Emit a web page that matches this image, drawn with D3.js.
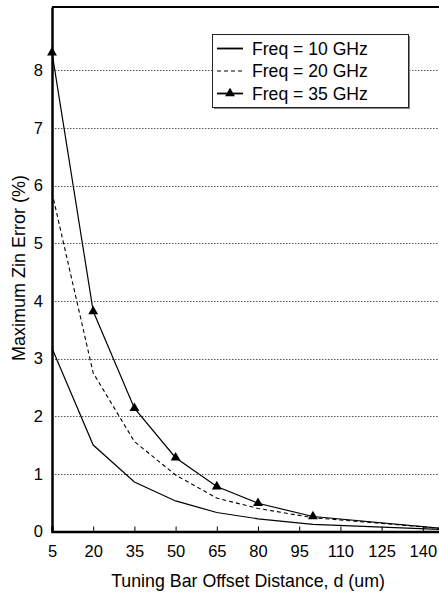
<!DOCTYPE html>
<html><head><meta charset="utf-8">
<script src="https://cdn.jsdelivr.net/npm/d3@7"></script>
<style>html,body{margin:0;padding:0;background:#fff;overflow:hidden}</style>
</head><body>
<svg id="c" width="439" height="595"></svg>
<script>
const xValues = [5, 20, 35, 50, 65, 80, 100, 150];
const f10 = [3.18, 1.50, 0.86, 0.53, 0.33, 0.22, 0.125, 0.03];
const f20 = [5.88, 2.75, 1.56, 0.98, 0.58, 0.40, 0.24, 0.04];
const f35 = [8.31, 3.82, 2.14, 1.28, 0.78, 0.49, 0.26, 0.04];
const xTicks = [5, 20, 35, 50, 65, 80, 95, 110, 125, 140, 155];
const xTickLabels = ["5", "20", "35", "50", "65", "80", "95", "110", "125", "140", ""];
const yTicks = [0, 1, 2, 3, 4, 5, 6, 7, 8];
const seriesNames = ["Freq = 10 GHz", "Freq = 20 GHz", "Freq = 35 GHz"];

const svg = d3.select("#c");
const font = "'Liberation Sans', Arial, sans-serif";
const x = d3.scaleLinear().domain([5, 155]).range([52, 464]);
const y = d3.scaleLinear().domain([0, 9.1]).range([531.5, 7]);

// gridlines
svg.append("g").selectAll("line").data(yTicks.filter(d => d > 0)).join("line")
  .attr("x1", x(5)).attr("x2", 470)
  .attr("y1", d => Math.round(y(d)) + 0.5).attr("y2", d => Math.round(y(d)) + 0.5)
  .attr("stroke", "#555").attr("stroke-width", 1).attr("stroke-dasharray", "1.5,1.5");

// top border
svg.append("line").attr("x1", x(5)).attr("x2", 470).attr("y1", 7).attr("y2", 7)
  .attr("stroke", "#000").attr("stroke-width", 2);

// x axis
const xAxis = svg.append("g").attr("transform", `translate(0,${y(0)})`)
  .call(d3.axisBottom(x).tickValues(xTicks).tickSize(-5).tickPadding(14)
    .tickFormat((d, i) => xTickLabels[i]));
xAxis.select(".domain").attr("stroke", "#000").attr("stroke-width", 2.5);
xAxis.selectAll(".tick line").attr("stroke", "#000").attr("stroke-width", 1);
xAxis.selectAll("text").attr("font-family", font).attr("font-size", 16.5).attr("fill", "#000");

// y axis
const yAxis = svg.append("g").attr("transform", `translate(${x(5)},0)`)
  .call(d3.axisLeft(y).tickValues(yTicks).tickSize(0).tickPadding(9).tickFormat(d3.format("d")));
yAxis.select(".domain").attr("stroke", "#000").attr("stroke-width", 2.5);
yAxis.selectAll("text").attr("font-family", font).attr("font-size", 16.5).attr("fill", "#000");

// lines
const line = d3.line().x((d, i) => x(xValues[i])).y(d => y(d));
const g = svg.append("g");
g.append("path").datum(f10).attr("d", line).attr("fill", "none").attr("stroke", "#000").attr("stroke-width", 1.2);
g.append("path").datum(f20).attr("d", line).attr("fill", "none").attr("stroke", "#000").attr("stroke-width", 1.1).attr("stroke-dasharray", "4,3");
g.append("path").datum(f35).attr("d", line).attr("fill", "none").attr("stroke", "#000").attr("stroke-width", 1.2);
const tri = d3.symbol().type(d3.symbolTriangle).size(42);
g.selectAll("path.m").data(f35.slice(0, 7)).join("path").attr("class", "m")
  .attr("d", tri).attr("transform", (d, i) => `translate(${x(xValues[i])},${y(d)})`).attr("fill", "#000");

// axis titles
svg.append("text").attr("x", 248).attr("y", 587).attr("text-anchor", "middle")
  .attr("font-family", font).attr("font-size", 17.8).text("Tuning Bar Offset Distance, d (um)");
svg.append("text").attr("transform", "translate(25,268) rotate(-90)").attr("text-anchor", "middle")
  .attr("font-family", font).attr("font-size", 18).text("Maximum Zin Error (%)");

// legend
const lg = svg.append("g");
lg.append("rect").attr("x", 214).attr("y", 36).attr("width", 196).attr("height", 73).attr("fill", "#888");
lg.append("rect").attr("x", 212.5).attr("y", 34.5).attr("width", 196).attr("height", 73)
  .attr("fill", "#fff").attr("stroke", "#222").attr("stroke-width", 1);
const rowsY = [48.5, 71, 93.5];
seriesNames.forEach((name, i) => {
  const l = lg.append("line").attr("x1", 217).attr("x2", 243).attr("y1", rowsY[i]).attr("y2", rowsY[i])
    .attr("stroke", "#000").attr("stroke-width", i === 1 ? 1 : 1.8);
  if (i === 1) l.attr("stroke-dasharray", "4,3");
  if (i === 2) lg.append("path").attr("d", tri).attr("transform", `translate(230,${rowsY[i]})`).attr("fill", "#000");
  lg.append("text").attr("x", 252).attr("y", rowsY[i]).attr("dy", "0.36em")
    .attr("font-family", font).attr("font-size", 17.6).text(name);
});
</script>
</body></html>
